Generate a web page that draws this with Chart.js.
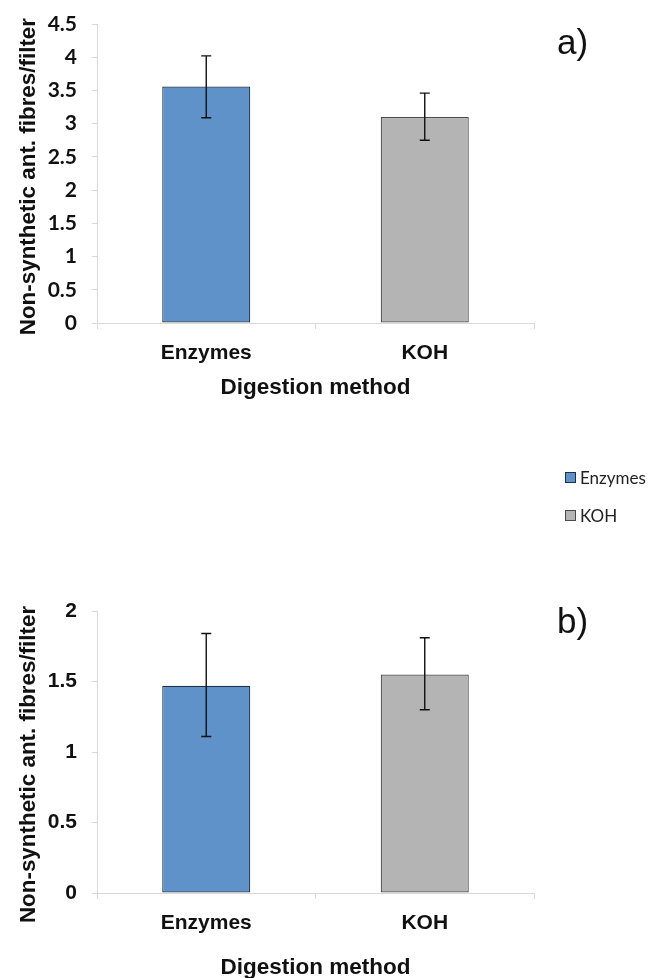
<!DOCTYPE html>
<html>
<head>
<meta charset="utf-8">
<script src="https://cdn.jsdelivr.net/npm/chart.js@4.4.1/dist/chart.umd.min.js"></script>
<style>
  html, body { margin: 0; padding: 0; background: #ffffff; }
  body { width: 650px; height: 978px; position: relative; overflow: hidden; }
  canvas { position: absolute; left: 0; }
  #cA { top: 0; }
  #cB { top: 580px; }
  .panel { position: absolute; font-family: "Liberation Sans", Arial, sans-serif; font-size: 35px; color: #111; line-height: 1; }
  #legend { position: absolute; left: 565px; top: 467px; font-family: Lato, "Open Sans", sans-serif; font-size: 17px; color: #222; }
  .item { display: flex; align-items: center; height: 20px; margin-bottom: 18px; }
  .sw { width: 9px; height: 9px; border: 1px solid #444; margin-right: 4px; }
</style>
</head>
<body>
<canvas id="cA" width="650" height="410"></canvas>
<canvas id="cB" width="650" height="398"></canvas>
<div class="panel" style="left:557px; top:24px;">a)</div>
<div class="panel" style="left:557px; top:603px;">b)</div>
<div id="legend"></div>
<script>
// ---- data ----
const categories = ['Enzymes', 'KOH'];
const meansA = [3.56, 3.10];
const errLowA = [3.09, 2.75];
const errHighA = [4.02, 3.46];
const meansB = [1.47, 1.55];
const errLowB = [1.11, 1.30];
const errHighB = [1.84, 1.81];
const yTicksA = [0, 0.5, 1, 1.5, 2, 2.5, 3, 3.5, 4, 4.5];
const yTicksB = [0, 0.5, 1, 1.5, 2];
const yTickLabelsA = ['0', '0.5', '1', '1.5', '2', '2.5', '3', '3.5', '4', '4.5'];
const yTickLabelsB = ['0', '0.5', '1', '1.5', '2'];
const yTitle = 'Non-synthetic ant. fibres/filter';
const xTitle = 'Digestion method';

const fills = ['#5e92c8', '#b4b4b4'];
const borders = ['#1e3247', '#4a4a4a'];
const axisGrey = '#d9d9d9';

const errorBars = {
  id: 'errorBars',
  afterDatasetsDraw(chart, args, opts) {
    const ctx = chart.ctx;
    const meta = chart.getDatasetMeta(0);
    const y = chart.scales.y;
    ctx.save();
    ctx.strokeStyle = '#111';
    ctx.lineWidth = 1.4;
    meta.data.forEach((bar, i) => {
      const x = bar.x;
      const yt = y.getPixelForValue(opts.high[i]);
      const yb = y.getPixelForValue(opts.low[i]);
      ctx.beginPath();
      ctx.moveTo(x, yt); ctx.lineTo(x, yb);
      ctx.moveTo(x - 5, yt); ctx.lineTo(x + 5, yt);
      ctx.moveTo(x - 5, yb); ctx.lineTo(x + 5, yb);
      ctx.stroke();
    });
    ctx.restore();
  }
};

function makeChart(id, means, low, high, yTicks, yLabels, cfg) {
  return new Chart(document.getElementById(id), {
    type: 'bar',
    data: {
      labels: categories,
      datasets: [{
        data: means,
        backgroundColor: fills,
        borderColor: borders,
        borderWidth: 1.2,
        borderSkipped: false,
        barPercentage: 0.403,
        categoryPercentage: 1.0
      }]
    },
    plugins: [errorBars],
    options: {
      responsive: false,
      animation: false,
      devicePixelRatio: 1,
      layout: { padding: { top: cfg.top, right: 116, left: 0, bottom: 0 } },
      plugins: {
        legend: { display: false },
        tooltip: { enabled: false },
        errorBars: { low: low, high: high }
      },
      scales: {
        x: {
          offset: true,
          grid: { offset: true, drawOnChartArea: false, drawTicks: true, tickLength: 6, color: axisGrey, lineWidth: 1 },
          border: { color: axisGrey, width: 1 },
          ticks: { color: '#111', padding: 12, font: { family: '"Liberation Sans", Arial, sans-serif', size: 21, weight: 'bold' } },
          title: { display: true, text: xTitle, color: '#111', padding: { top: 0, bottom: cfg.xTitlePad }, font: { family: '"Liberation Sans", Arial, sans-serif', size: 22.5, weight: 'bold' } },
          afterFit(s) { s.height = cfg.xh; s.paddingLeft = 0; s.paddingRight = 0; }
        },
        y: {
          min: yTicks[0],
          max: yTicks[yTicks.length - 1],
          afterBuildTicks(s) { s.ticks = yTicks.map(v => ({ value: v })); },
          grid: { drawOnChartArea: false, drawTicks: true, tickLength: 5, color: axisGrey, lineWidth: 1 },
          border: { color: axisGrey, width: 1 },
          ticks: {
            color: '#111', padding: 15,
            font: { family: cfg.tickFamily, size: cfg.tickSize, weight: 'bold' },
            callback(v) { const k = yTicks.indexOf(v); return k >= 0 ? yLabels[k] : ''; }
          },
          title: { display: true, text: cfg.yTitleText, color: '#111', padding: { top: 15, bottom: 0 }, font: { family: '"Liberation Sans", Arial, sans-serif', size: 22.4, weight: 'bold' } },
          afterFit(s) { s.width = 97; s.paddingTop = 0; s.paddingBottom = 0; }
        }
      }
    }
  });
}

makeChart('cA', meansA, errLowA, errHighA, yTicksA, yTickLabelsA, { top: 24, xh: 87, xTitlePad: 9, tickSize: 21, tickFamily: 'Lato, "Liberation Sans", sans-serif', yTitleText: yTitle + ' ' });
makeChart('cB', meansB, errLowB, errHighB, yTicksB, yTickLabelsB, { top: 31, xh: 85, xTitlePad: -3, tickSize: 21, tickFamily: '"Liberation Sans", Arial, sans-serif', yTitleText: yTitle + '    ' });

// ---- HTML legend ----
const legend = document.getElementById('legend');
categories.forEach((c, i) => {
  const it = document.createElement('div');
  it.className = 'item';
  const sw = document.createElement('span');
  sw.className = 'sw';
  sw.style.background = fills[i];
  sw.style.borderColor = borders[i];
  const tx = document.createElement('span');
  tx.textContent = c;
  it.appendChild(sw); it.appendChild(tx);
  legend.appendChild(it);
});
</script>
</body>
</html>
